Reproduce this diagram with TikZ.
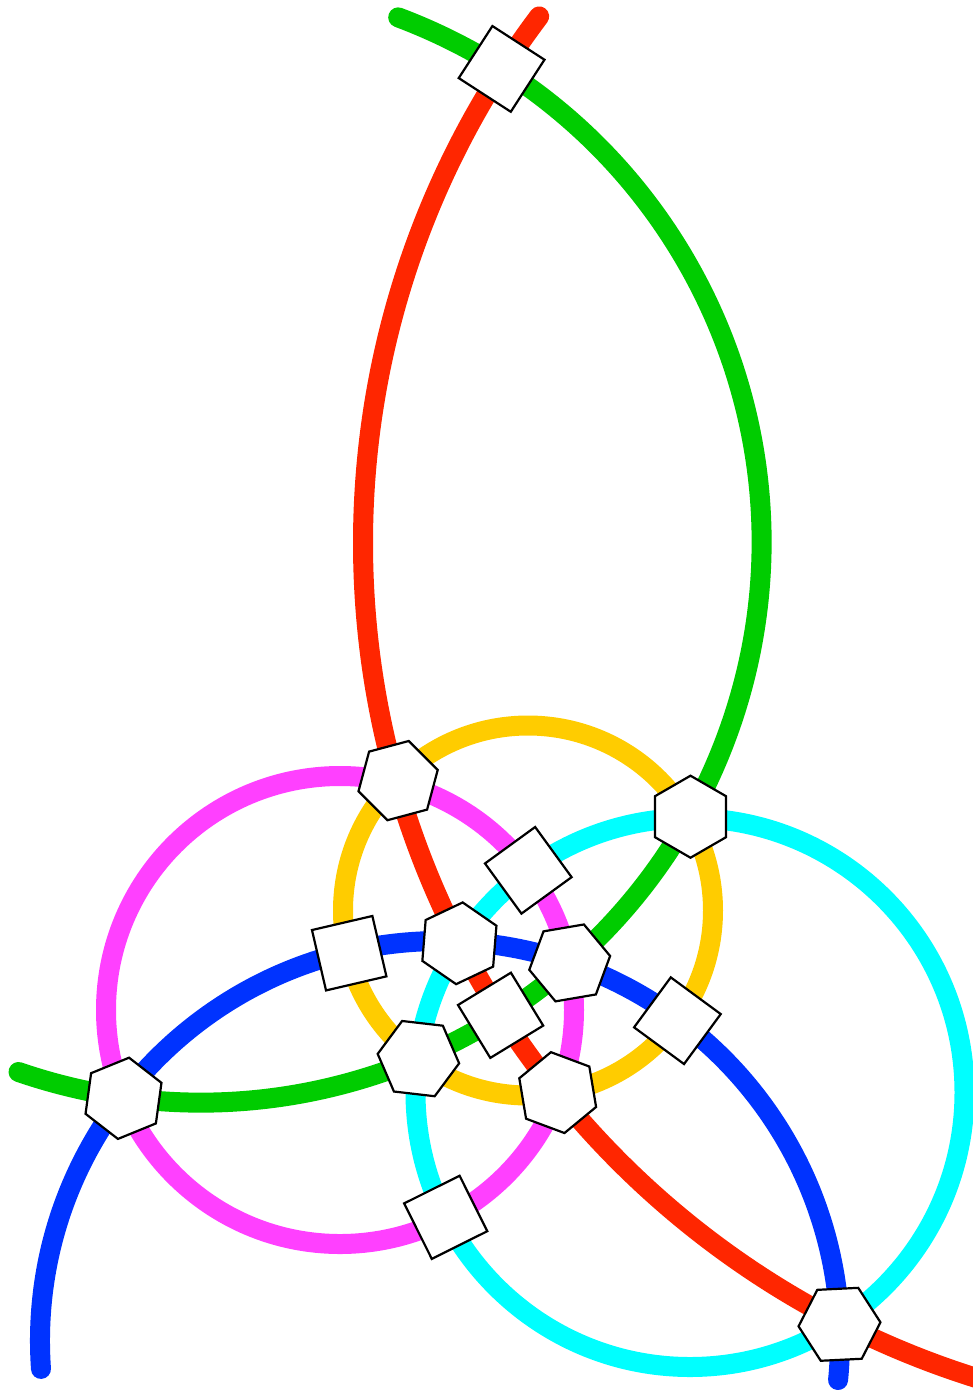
\documentclass[tikz,border=0pt]{standalone}
\usepackage{xcolor}
\usepackage{tikz}
\usetikzlibrary{shapes.geometric}
\definecolor{rdc}{RGB}{255,38,0}
\definecolor{gnc}{RGB}{0,204,0}
\definecolor{blc}{RGB}{0,51,255}
\definecolor{mgc}{RGB}{255,64,255}
\definecolor{ylc}{RGB}{255,204,0}
\definecolor{cyc}{RGB}{0,255,255}
\tikzset{
  ln/.style={line width=20pt,line cap=round},
  hx/.style={draw,fill=white,line width=2.2pt,regular polygon,regular polygon sides=6,inner sep=0pt,minimum size=82pt},
  sq/.style={draw,fill=white,line width=2.2pt,rectangle,inner sep=0pt,minimum size=62pt}
}

\begin{document}
\begin{tikzpicture}[x=1pt,y=-1pt]
\useasboundingbox (0,0) rectangle (973,1390);
\coordinate (rc) at (1238,543); \coordinate (gc) at (201,542); \coordinate (bc) at (440,1341);
\coordinate (mc) at (340,1010); \coordinate (yc) at (528,910.5); \coordinate (cc) at (690,1092.5);
\draw[ln,mgc] (mc) circle[radius=234];
\draw[ln,ylc] (yc) circle[radius=185];
\draw[ln,cyc] (cc) circle[radius=274.5];
\draw[ln,blc] (bc) ++(176:400) arc[start angle=176,end angle=365.6,radius=400];
\draw[ln,gnc] (gc) ++(-69.4:560.5) arc[start angle=-69.4,end angle=109,radius=560.5];
\draw[ln,rdc] (rc) ++(217:875) arc[start angle=217,end angle=104,radius=875];
\node[sq,rotate=57.1] (q1) at (501.6,68.9) {};
\node[sq,rotate=36] (q2) at (528.3,870.3) {};
\node[sq,rotate=13.1] (q3) at (349.2,953.2) {};
\node[sq,rotate=31.4] (q4) at (500.6,1015.3) {};
\node[sq,rotate=53.7] (q5) at (677.4,1020.7) {};
\node[sq,rotate=26.5] (q6) at (445.7,1217.3) {};
\node[hx,rotate=15] (h1) at (398.1,780.6) {};
\node[hx,rotate=30] (h2) at (690.5,816.7) {};
\node[hx,rotate=25.4] (h3) at (459.4,943.3) {};
\node[hx,rotate=9.7] (h4) at (569.7,962.9) {};
\node[hx,rotate=53.4] (h5) at (418.4,1058.6) {};
\node[hx,rotate=39.5] (h6) at (557.7,1092.6) {};
\node[hx,rotate=22.2] (h7) at (123.5,1098.3) {};
\node[hx,rotate=2.8] (h8) at (839.5,1324.3) {};
\end{tikzpicture}
\end{document}
